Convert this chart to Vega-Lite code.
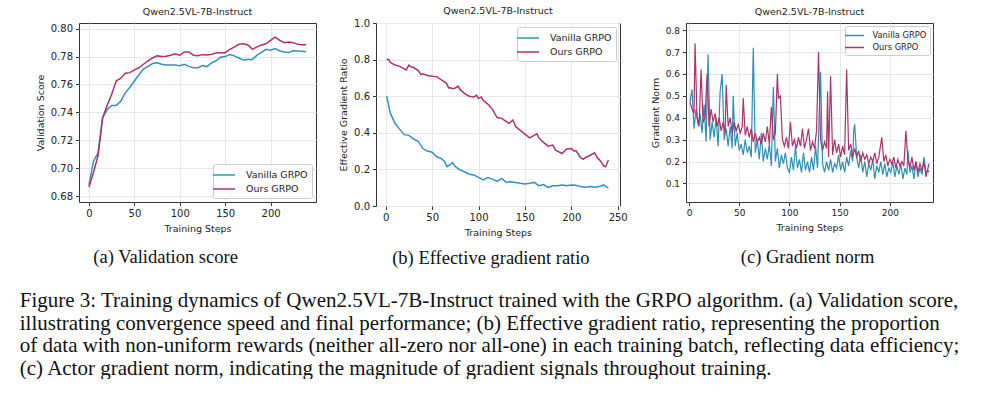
{
  "$schema": "https://vega.github.io/schema/vega-lite/v6.json",
  "background": "white",
  "padding": {"left": 19, "top": 5, "right": 0, "bottom": 0},
  "spacing": 21,
  "align": "none",
  "config": {
    "font": "DejaVu Sans",
    "view": {"stroke": "#333", "strokeWidth": 1},
    "axis": {"domain": false, "tickColor": "#333", "tickSize": 3.5, "labelFontSize": 10, "labelColor": "#222", "titleFontSize": 9.5, "titleFontWeight": "normal", "titleColor": "#222", "gridColor": "#e6e6e6", "labelPadding": 3, "titlePadding": 5},
    "title": {"font": "DejaVu Sans", "fontSize": 9.5, "fontWeight": "normal", "color": "#222"},
    "legend": {"title": null, "strokeColor": "#cccccc", "fillColor": "white", "padding": 4, "cornerRadius": 2, "symbolType": "M-1.8,0H1.8", "symbolStrokeWidth": 1.5, "symbolSize": 150, "labelOffset": 15, "labelFontSize": 9.5, "labelColor": "#222", "rowPadding": 2, "offset": 4}
  },
  "title": {
    "text": [
      "Figure 3: Training dynamics of Qwen2.5VL-7B-Instruct trained with the GRPO algorithm. (a) Validation score,",
      "illustrating convergence speed and final performance; (b) Effective gradient ratio, representing the proportion",
      "of data with non-uniform rewards (neither all-zero nor all-one) in each training batch, reflecting data efficiency;",
      "(c) Actor gradient norm, indicating the magnitude of gradient signals throughout training."
    ],
    "orient": "bottom", "anchor": "start", "font": "Liberation Serif", "fontSize": 21, "lineHeight": 22.5, "color": "#111", "offset": 23, "dx": -15, "frame": "bounds"
  },
  "resolve": {"scale": {"color": "independent", "x": "independent", "y": "independent"}, "legend": {"color": "independent"}},
  "datasets": {
    "a": [
      {"g":"Vanilla GRPO","x":0,"y":0.688},{"g":"Vanilla GRPO","x":5,"y":0.705},{"g":"Vanilla GRPO","x":10,"y":0.711},{"g":"Vanilla GRPO","x":15,"y":0.736},{"g":"Vanilla GRPO","x":20,"y":0.742},{"g":"Vanilla GRPO","x":25,"y":0.745},{"g":"Vanilla GRPO","x":30,"y":0.745},{"g":"Vanilla GRPO","x":35,"y":0.748},{"g":"Vanilla GRPO","x":40,"y":0.754},{"g":"Vanilla GRPO","x":45,"y":0.758},{"g":"Vanilla GRPO","x":50,"y":0.7625},{"g":"Vanilla GRPO","x":55,"y":0.767},{"g":"Vanilla GRPO","x":60,"y":0.771},{"g":"Vanilla GRPO","x":65,"y":0.773},{"g":"Vanilla GRPO","x":70,"y":0.775},{"g":"Vanilla GRPO","x":75,"y":0.7755},{"g":"Vanilla GRPO","x":80,"y":0.7745},{"g":"Vanilla GRPO","x":85,"y":0.774},{"g":"Vanilla GRPO","x":90,"y":0.774},{"g":"Vanilla GRPO","x":95,"y":0.774},{"g":"Vanilla GRPO","x":100,"y":0.7735},{"g":"Vanilla GRPO","x":105,"y":0.7745},{"g":"Vanilla GRPO","x":110,"y":0.773},{"g":"Vanilla GRPO","x":115,"y":0.772},{"g":"Vanilla GRPO","x":120,"y":0.772},{"g":"Vanilla GRPO","x":125,"y":0.7735},{"g":"Vanilla GRPO","x":130,"y":0.7728},{"g":"Vanilla GRPO","x":135,"y":0.7755},{"g":"Vanilla GRPO","x":140,"y":0.777},{"g":"Vanilla GRPO","x":145,"y":0.7797},{"g":"Vanilla GRPO","x":150,"y":0.780},{"g":"Vanilla GRPO","x":155,"y":0.7815},{"g":"Vanilla GRPO","x":160,"y":0.7805},{"g":"Vanilla GRPO","x":165,"y":0.779},{"g":"Vanilla GRPO","x":170,"y":0.7775},{"g":"Vanilla GRPO","x":175,"y":0.778},{"g":"Vanilla GRPO","x":180,"y":0.778},{"g":"Vanilla GRPO","x":185,"y":0.781},{"g":"Vanilla GRPO","x":190,"y":0.783},{"g":"Vanilla GRPO","x":195,"y":0.7852},{"g":"Vanilla GRPO","x":200,"y":0.7845},{"g":"Vanilla GRPO","x":205,"y":0.7857},{"g":"Vanilla GRPO","x":210,"y":0.784},{"g":"Vanilla GRPO","x":215,"y":0.7833},{"g":"Vanilla GRPO","x":220,"y":0.783},{"g":"Vanilla GRPO","x":225,"y":0.7842},{"g":"Vanilla GRPO","x":230,"y":0.784},{"g":"Vanilla GRPO","x":235,"y":0.7838},{"g":"Vanilla GRPO","x":239,"y":0.7835},
      {"g":"Ours GRPO","x":0,"y":0.6865},{"g":"Ours GRPO","x":5,"y":0.697},{"g":"Ours GRPO","x":10,"y":0.709},{"g":"Ours GRPO","x":15,"y":0.736},{"g":"Ours GRPO","x":20,"y":0.745},{"g":"Ours GRPO","x":25,"y":0.753},{"g":"Ours GRPO","x":30,"y":0.7625},{"g":"Ours GRPO","x":35,"y":0.7645},{"g":"Ours GRPO","x":40,"y":0.768},{"g":"Ours GRPO","x":45,"y":0.7685},{"g":"Ours GRPO","x":50,"y":0.7705},{"g":"Ours GRPO","x":55,"y":0.772},{"g":"Ours GRPO","x":60,"y":0.7745},{"g":"Ours GRPO","x":65,"y":0.777},{"g":"Ours GRPO","x":70,"y":0.779},{"g":"Ours GRPO","x":75,"y":0.7805},{"g":"Ours GRPO","x":80,"y":0.780},{"g":"Ours GRPO","x":85,"y":0.7802},{"g":"Ours GRPO","x":90,"y":0.781},{"g":"Ours GRPO","x":95,"y":0.782},{"g":"Ours GRPO","x":100,"y":0.781},{"g":"Ours GRPO","x":105,"y":0.7833},{"g":"Ours GRPO","x":110,"y":0.7833},{"g":"Ours GRPO","x":115,"y":0.781},{"g":"Ours GRPO","x":120,"y":0.7806},{"g":"Ours GRPO","x":125,"y":0.7814},{"g":"Ours GRPO","x":130,"y":0.7811},{"g":"Ours GRPO","x":135,"y":0.7816},{"g":"Ours GRPO","x":140,"y":0.7825},{"g":"Ours GRPO","x":145,"y":0.7828},{"g":"Ours GRPO","x":150,"y":0.7828},{"g":"Ours GRPO","x":155,"y":0.7852},{"g":"Ours GRPO","x":160,"y":0.7868},{"g":"Ours GRPO","x":165,"y":0.7888},{"g":"Ours GRPO","x":170,"y":0.7892},{"g":"Ours GRPO","x":175,"y":0.7883},{"g":"Ours GRPO","x":180,"y":0.7852},{"g":"Ours GRPO","x":185,"y":0.787},{"g":"Ours GRPO","x":190,"y":0.7883},{"g":"Ours GRPO","x":195,"y":0.7892},{"g":"Ours GRPO","x":200,"y":0.7916},{"g":"Ours GRPO","x":205,"y":0.794},{"g":"Ours GRPO","x":210,"y":0.7916},{"g":"Ours GRPO","x":215,"y":0.790},{"g":"Ours GRPO","x":220,"y":0.7905},{"g":"Ours GRPO","x":225,"y":0.790},{"g":"Ours GRPO","x":230,"y":0.7888},{"g":"Ours GRPO","x":235,"y":0.7885},{"g":"Ours GRPO","x":239,"y":0.7885}
    ],
    "b": [
      {"g":"Vanilla GRPO","x":1,"y":0.60},{"g":"Vanilla GRPO","x":5,"y":0.506},{"g":"Vanilla GRPO","x":10,"y":0.452},{"g":"Vanilla GRPO","x":15,"y":0.42},{"g":"Vanilla GRPO","x":20,"y":0.39},{"g":"Vanilla GRPO","x":25,"y":0.386},{"g":"Vanilla GRPO","x":30,"y":0.366},{"g":"Vanilla GRPO","x":35,"y":0.354},{"g":"Vanilla GRPO","x":40,"y":0.314},{"g":"Vanilla GRPO","x":45,"y":0.30},{"g":"Vanilla GRPO","x":50,"y":0.294},{"g":"Vanilla GRPO","x":55,"y":0.269},{"g":"Vanilla GRPO","x":60,"y":0.259},{"g":"Vanilla GRPO","x":63,"y":0.246},{"g":"Vanilla GRPO","x":66,"y":0.215},{"g":"Vanilla GRPO","x":69,"y":0.225},{"g":"Vanilla GRPO","x":72,"y":0.237},{"g":"Vanilla GRPO","x":75,"y":0.215},{"g":"Vanilla GRPO","x":80,"y":0.197},{"g":"Vanilla GRPO","x":85,"y":0.187},{"g":"Vanilla GRPO","x":90,"y":0.174},{"g":"Vanilla GRPO","x":95,"y":0.17},{"g":"Vanilla GRPO","x":100,"y":0.156},{"g":"Vanilla GRPO","x":105,"y":0.142},{"g":"Vanilla GRPO","x":110,"y":0.156},{"g":"Vanilla GRPO","x":115,"y":0.147},{"g":"Vanilla GRPO","x":120,"y":0.135},{"g":"Vanilla GRPO","x":125,"y":0.151},{"g":"Vanilla GRPO","x":130,"y":0.129},{"g":"Vanilla GRPO","x":135,"y":0.133},{"g":"Vanilla GRPO","x":140,"y":0.129},{"g":"Vanilla GRPO","x":145,"y":0.124},{"g":"Vanilla GRPO","x":150,"y":0.12},{"g":"Vanilla GRPO","x":155,"y":0.124},{"g":"Vanilla GRPO","x":160,"y":0.129},{"g":"Vanilla GRPO","x":165,"y":0.111},{"g":"Vanilla GRPO","x":170,"y":0.117},{"g":"Vanilla GRPO","x":175,"y":0.102},{"g":"Vanilla GRPO","x":180,"y":0.111},{"g":"Vanilla GRPO","x":185,"y":0.111},{"g":"Vanilla GRPO","x":190,"y":0.115},{"g":"Vanilla GRPO","x":195,"y":0.111},{"g":"Vanilla GRPO","x":200,"y":0.115},{"g":"Vanilla GRPO","x":205,"y":0.113},{"g":"Vanilla GRPO","x":210,"y":0.106},{"g":"Vanilla GRPO","x":215,"y":0.102},{"g":"Vanilla GRPO","x":220,"y":0.106},{"g":"Vanilla GRPO","x":225,"y":0.102},{"g":"Vanilla GRPO","x":230,"y":0.106},{"g":"Vanilla GRPO","x":235,"y":0.115},{"g":"Vanilla GRPO","x":240,"y":0.097},
      {"g":"Ours GRPO","x":1,"y":0.80},{"g":"Ours GRPO","x":3,"y":0.802},{"g":"Ours GRPO","x":5,"y":0.785},{"g":"Ours GRPO","x":10,"y":0.77},{"g":"Ours GRPO","x":15,"y":0.763},{"g":"Ours GRPO","x":20,"y":0.749},{"g":"Ours GRPO","x":22,"y":0.743},{"g":"Ours GRPO","x":25,"y":0.77},{"g":"Ours GRPO","x":28,"y":0.758},{"g":"Ours GRPO","x":30,"y":0.758},{"g":"Ours GRPO","x":35,"y":0.74},{"g":"Ours GRPO","x":38,"y":0.718},{"g":"Ours GRPO","x":40,"y":0.722},{"g":"Ours GRPO","x":45,"y":0.713},{"g":"Ours GRPO","x":50,"y":0.709},{"g":"Ours GRPO","x":55,"y":0.707},{"g":"Ours GRPO","x":60,"y":0.689},{"g":"Ours GRPO","x":65,"y":0.673},{"g":"Ours GRPO","x":68,"y":0.645},{"g":"Ours GRPO","x":70,"y":0.646},{"g":"Ours GRPO","x":72,"y":0.641},{"g":"Ours GRPO","x":75,"y":0.645},{"g":"Ours GRPO","x":78,"y":0.655},{"g":"Ours GRPO","x":80,"y":0.637},{"g":"Ours GRPO","x":85,"y":0.614},{"g":"Ours GRPO","x":90,"y":0.60},{"g":"Ours GRPO","x":95,"y":0.596},{"g":"Ours GRPO","x":98,"y":0.605},{"g":"Ours GRPO","x":100,"y":0.587},{"g":"Ours GRPO","x":103,"y":0.596},{"g":"Ours GRPO","x":105,"y":0.578},{"g":"Ours GRPO","x":110,"y":0.557},{"g":"Ours GRPO","x":115,"y":0.528},{"g":"Ours GRPO","x":120,"y":0.483},{"g":"Ours GRPO","x":125,"y":0.479},{"g":"Ours GRPO","x":130,"y":0.461},{"g":"Ours GRPO","x":133,"y":0.452},{"g":"Ours GRPO","x":137,"y":0.47},{"g":"Ours GRPO","x":140,"y":0.434},{"g":"Ours GRPO","x":145,"y":0.413},{"g":"Ours GRPO","x":150,"y":0.393},{"g":"Ours GRPO","x":155,"y":0.372},{"g":"Ours GRPO","x":160,"y":0.386},{"g":"Ours GRPO","x":163,"y":0.395},{"g":"Ours GRPO","x":165,"y":0.372},{"g":"Ours GRPO","x":170,"y":0.348},{"g":"Ours GRPO","x":175,"y":0.327},{"g":"Ours GRPO","x":180,"y":0.333},{"g":"Ours GRPO","x":183,"y":0.305},{"g":"Ours GRPO","x":185,"y":0.30},{"g":"Ours GRPO","x":190,"y":0.287},{"g":"Ours GRPO","x":195,"y":0.312},{"g":"Ours GRPO","x":200,"y":0.314},{"g":"Ours GRPO","x":203,"y":0.30},{"g":"Ours GRPO","x":205,"y":0.303},{"g":"Ours GRPO","x":210,"y":0.264},{"g":"Ours GRPO","x":213,"y":0.255},{"g":"Ours GRPO","x":215,"y":0.264},{"g":"Ours GRPO","x":220,"y":0.276},{"g":"Ours GRPO","x":225,"y":0.291},{"g":"Ours GRPO","x":228,"y":0.264},{"g":"Ours GRPO","x":230,"y":0.255},{"g":"Ours GRPO","x":235,"y":0.219},{"g":"Ours GRPO","x":237,"y":0.214},{"g":"Ours GRPO","x":240,"y":0.251}
    ],
    "c": [
      {"g":"Vanilla GRPO","x":1,"y":0.47},{"g":"Vanilla GRPO","x":3,"y":0.53},{"g":"Vanilla GRPO","x":5,"y":0.35},{"g":"Vanilla GRPO","x":7,"y":0.44},{"g":"Vanilla GRPO","x":9,"y":0.37},{"g":"Vanilla GRPO","x":11,"y":0.42},{"g":"Vanilla GRPO","x":13,"y":0.33},{"g":"Vanilla GRPO","x":15,"y":0.46},{"g":"Vanilla GRPO","x":17,"y":0.29},{"g":"Vanilla GRPO","x":19,"y":0.69},{"g":"Vanilla GRPO","x":21,"y":0.30},{"g":"Vanilla GRPO","x":23,"y":0.38},{"g":"Vanilla GRPO","x":25,"y":0.31},{"g":"Vanilla GRPO","x":27,"y":0.40},{"g":"Vanilla GRPO","x":29,"y":0.27},{"g":"Vanilla GRPO","x":31,"y":0.52},{"g":"Vanilla GRPO","x":33,"y":0.60},{"g":"Vanilla GRPO","x":35,"y":0.30},{"g":"Vanilla GRPO","x":37,"y":0.35},{"g":"Vanilla GRPO","x":39,"y":0.27},{"g":"Vanilla GRPO","x":41,"y":0.36},{"g":"Vanilla GRPO","x":43,"y":0.26},{"g":"Vanilla GRPO","x":44,"y":0.50},{"g":"Vanilla GRPO","x":46,"y":0.27},{"g":"Vanilla GRPO","x":48,"y":0.33},{"g":"Vanilla GRPO","x":50,"y":0.25},{"g":"Vanilla GRPO","x":52,"y":0.28},{"g":"Vanilla GRPO","x":54,"y":0.23},{"g":"Vanilla GRPO","x":56,"y":0.30},{"g":"Vanilla GRPO","x":58,"y":0.24},{"g":"Vanilla GRPO","x":60,"y":0.27},{"g":"Vanilla GRPO","x":62,"y":0.22},{"g":"Vanilla GRPO","x":64,"y":0.72},{"g":"Vanilla GRPO","x":66,"y":0.24},{"g":"Vanilla GRPO","x":68,"y":0.30},{"g":"Vanilla GRPO","x":70,"y":0.21},{"g":"Vanilla GRPO","x":72,"y":0.33},{"g":"Vanilla GRPO","x":74,"y":0.20},{"g":"Vanilla GRPO","x":76,"y":0.26},{"g":"Vanilla GRPO","x":78,"y":0.21},{"g":"Vanilla GRPO","x":80,"y":0.28},{"g":"Vanilla GRPO","x":82,"y":0.18},{"g":"Vanilla GRPO","x":84,"y":0.54},{"g":"Vanilla GRPO","x":86,"y":0.20},{"g":"Vanilla GRPO","x":88,"y":0.26},{"g":"Vanilla GRPO","x":90,"y":0.17},{"g":"Vanilla GRPO","x":92,"y":0.23},{"g":"Vanilla GRPO","x":94,"y":0.19},{"g":"Vanilla GRPO","x":96,"y":0.24},{"g":"Vanilla GRPO","x":98,"y":0.17},{"g":"Vanilla GRPO","x":100,"y":0.15},{"g":"Vanilla GRPO","x":102,"y":0.22},{"g":"Vanilla GRPO","x":104,"y":0.16},{"g":"Vanilla GRPO","x":106,"y":0.27},{"g":"Vanilla GRPO","x":108,"y":0.17},{"g":"Vanilla GRPO","x":110,"y":0.21},{"g":"Vanilla GRPO","x":112,"y":0.15},{"g":"Vanilla GRPO","x":114,"y":0.24},{"g":"Vanilla GRPO","x":116,"y":0.16},{"g":"Vanilla GRPO","x":118,"y":0.20},{"g":"Vanilla GRPO","x":120,"y":0.15},{"g":"Vanilla GRPO","x":122,"y":0.22},{"g":"Vanilla GRPO","x":124,"y":0.16},{"g":"Vanilla GRPO","x":126,"y":0.27},{"g":"Vanilla GRPO","x":128,"y":0.17},{"g":"Vanilla GRPO","x":131,"y":0.61},{"g":"Vanilla GRPO","x":133,"y":0.19},{"g":"Vanilla GRPO","x":135,"y":0.15},{"g":"Vanilla GRPO","x":137,"y":0.20},{"g":"Vanilla GRPO","x":139,"y":0.16},{"g":"Vanilla GRPO","x":141,"y":0.21},{"g":"Vanilla GRPO","x":143,"y":0.15},{"g":"Vanilla GRPO","x":145,"y":0.19},{"g":"Vanilla GRPO","x":147,"y":0.17},{"g":"Vanilla GRPO","x":149,"y":0.23},{"g":"Vanilla GRPO","x":151,"y":0.16},{"g":"Vanilla GRPO","x":153,"y":0.20},{"g":"Vanilla GRPO","x":155,"y":0.15},{"g":"Vanilla GRPO","x":157,"y":0.22},{"g":"Vanilla GRPO","x":159,"y":0.18},{"g":"Vanilla GRPO","x":161,"y":0.25},{"g":"Vanilla GRPO","x":163,"y":0.20},{"g":"Vanilla GRPO","x":164,"y":0.34},{"g":"Vanilla GRPO","x":165,"y":0.37},{"g":"Vanilla GRPO","x":167,"y":0.22},{"g":"Vanilla GRPO","x":169,"y":0.17},{"g":"Vanilla GRPO","x":171,"y":0.23},{"g":"Vanilla GRPO","x":173,"y":0.15},{"g":"Vanilla GRPO","x":175,"y":0.20},{"g":"Vanilla GRPO","x":177,"y":0.13},{"g":"Vanilla GRPO","x":179,"y":0.19},{"g":"Vanilla GRPO","x":181,"y":0.16},{"g":"Vanilla GRPO","x":183,"y":0.21},{"g":"Vanilla GRPO","x":185,"y":0.12},{"g":"Vanilla GRPO","x":187,"y":0.18},{"g":"Vanilla GRPO","x":189,"y":0.15},{"g":"Vanilla GRPO","x":191,"y":0.20},{"g":"Vanilla GRPO","x":193,"y":0.14},{"g":"Vanilla GRPO","x":195,"y":0.19},{"g":"Vanilla GRPO","x":197,"y":0.13},{"g":"Vanilla GRPO","x":199,"y":0.17},{"g":"Vanilla GRPO","x":201,"y":0.15},{"g":"Vanilla GRPO","x":203,"y":0.20},{"g":"Vanilla GRPO","x":205,"y":0.13},{"g":"Vanilla GRPO","x":207,"y":0.18},{"g":"Vanilla GRPO","x":209,"y":0.14},{"g":"Vanilla GRPO","x":211,"y":0.19},{"g":"Vanilla GRPO","x":213,"y":0.12},{"g":"Vanilla GRPO","x":215,"y":0.17},{"g":"Vanilla GRPO","x":217,"y":0.14},{"g":"Vanilla GRPO","x":218,"y":0.25},{"g":"Vanilla GRPO","x":220,"y":0.15},{"g":"Vanilla GRPO","x":222,"y":0.18},{"g":"Vanilla GRPO","x":224,"y":0.12},{"g":"Vanilla GRPO","x":226,"y":0.20},{"g":"Vanilla GRPO","x":228,"y":0.13},{"g":"Vanilla GRPO","x":230,"y":0.17},{"g":"Vanilla GRPO","x":232,"y":0.14},{"g":"Vanilla GRPO","x":234,"y":0.22},{"g":"Vanilla GRPO","x":236,"y":0.15},{"g":"Vanilla GRPO","x":238,"y":0.16},{"g":"Vanilla GRPO","x":239,"y":0.15},
      {"g":"Ours GRPO","x":1,"y":0.47},{"g":"Ours GRPO","x":3,"y":0.44},{"g":"Ours GRPO","x":5,"y":0.42},{"g":"Ours GRPO","x":6,"y":0.74},{"g":"Ours GRPO","x":8,"y":0.40},{"g":"Ours GRPO","x":10,"y":0.36},{"g":"Ours GRPO","x":12,"y":0.62},{"g":"Ours GRPO","x":14,"y":0.38},{"g":"Ours GRPO","x":16,"y":0.40},{"g":"Ours GRPO","x":18,"y":0.60},{"g":"Ours GRPO","x":20,"y":0.36},{"g":"Ours GRPO","x":22,"y":0.44},{"g":"Ours GRPO","x":24,"y":0.38},{"g":"Ours GRPO","x":26,"y":0.42},{"g":"Ours GRPO","x":28,"y":0.36},{"g":"Ours GRPO","x":30,"y":0.40},{"g":"Ours GRPO","x":32,"y":0.34},{"g":"Ours GRPO","x":34,"y":0.38},{"g":"Ours GRPO","x":36,"y":0.33},{"g":"Ours GRPO","x":37,"y":0.55},{"g":"Ours GRPO","x":39,"y":0.36},{"g":"Ours GRPO","x":41,"y":0.40},{"g":"Ours GRPO","x":43,"y":0.33},{"g":"Ours GRPO","x":45,"y":0.38},{"g":"Ours GRPO","x":47,"y":0.34},{"g":"Ours GRPO","x":49,"y":0.37},{"g":"Ours GRPO","x":51,"y":0.33},{"g":"Ours GRPO","x":53,"y":0.36},{"g":"Ours GRPO","x":54,"y":0.49},{"g":"Ours GRPO","x":56,"y":0.32},{"g":"Ours GRPO","x":58,"y":0.36},{"g":"Ours GRPO","x":60,"y":0.31},{"g":"Ours GRPO","x":62,"y":0.35},{"g":"Ours GRPO","x":64,"y":0.29},{"g":"Ours GRPO","x":66,"y":0.33},{"g":"Ours GRPO","x":68,"y":0.29},{"g":"Ours GRPO","x":70,"y":0.31},{"g":"Ours GRPO","x":72,"y":0.28},{"g":"Ours GRPO","x":74,"y":0.33},{"g":"Ours GRPO","x":76,"y":0.29},{"g":"Ours GRPO","x":78,"y":0.36},{"g":"Ours GRPO","x":80,"y":0.28},{"g":"Ours GRPO","x":82,"y":0.45},{"g":"Ours GRPO","x":84,"y":0.30},{"g":"Ours GRPO","x":86,"y":0.33},{"g":"Ours GRPO","x":88,"y":0.60},{"g":"Ours GRPO","x":89,"y":0.49},{"g":"Ours GRPO","x":91,"y":0.50},{"g":"Ours GRPO","x":93,"y":0.30},{"g":"Ours GRPO","x":95,"y":0.27},{"g":"Ours GRPO","x":97,"y":0.31},{"g":"Ours GRPO","x":99,"y":0.26},{"g":"Ours GRPO","x":101,"y":0.38},{"g":"Ours GRPO","x":103,"y":0.27},{"g":"Ours GRPO","x":105,"y":0.30},{"g":"Ours GRPO","x":107,"y":0.26},{"g":"Ours GRPO","x":109,"y":0.31},{"g":"Ours GRPO","x":111,"y":0.27},{"g":"Ours GRPO","x":113,"y":0.35},{"g":"Ours GRPO","x":115,"y":0.26},{"g":"Ours GRPO","x":117,"y":0.30},{"g":"Ours GRPO","x":119,"y":0.35},{"g":"Ours GRPO","x":121,"y":0.25},{"g":"Ours GRPO","x":123,"y":0.29},{"g":"Ours GRPO","x":125,"y":0.26},{"g":"Ours GRPO","x":127,"y":0.34},{"g":"Ours GRPO","x":129,"y":0.70},{"g":"Ours GRPO","x":131,"y":0.30},{"g":"Ours GRPO","x":133,"y":0.25},{"g":"Ours GRPO","x":135,"y":0.29},{"g":"Ours GRPO","x":137,"y":0.26},{"g":"Ours GRPO","x":138,"y":0.52},{"g":"Ours GRPO","x":139,"y":0.22},{"g":"Ours GRPO","x":141,"y":0.59},{"g":"Ours GRPO","x":143,"y":0.23},{"g":"Ours GRPO","x":145,"y":0.30},{"g":"Ours GRPO","x":147,"y":0.24},{"g":"Ours GRPO","x":149,"y":0.28},{"g":"Ours GRPO","x":151,"y":0.22},{"g":"Ours GRPO","x":153,"y":0.27},{"g":"Ours GRPO","x":155,"y":0.23},{"g":"Ours GRPO","x":157,"y":0.62},{"g":"Ours GRPO","x":159,"y":0.25},{"g":"Ours GRPO","x":161,"y":0.28},{"g":"Ours GRPO","x":163,"y":0.22},{"g":"Ours GRPO","x":165,"y":0.26},{"g":"Ours GRPO","x":167,"y":0.22},{"g":"Ours GRPO","x":169,"y":0.25},{"g":"Ours GRPO","x":171,"y":0.20},{"g":"Ours GRPO","x":173,"y":0.24},{"g":"Ours GRPO","x":175,"y":0.21},{"g":"Ours GRPO","x":177,"y":0.23},{"g":"Ours GRPO","x":179,"y":0.19},{"g":"Ours GRPO","x":181,"y":0.22},{"g":"Ours GRPO","x":183,"y":0.20},{"g":"Ours GRPO","x":185,"y":0.24},{"g":"Ours GRPO","x":187,"y":0.19},{"g":"Ours GRPO","x":189,"y":0.22},{"g":"Ours GRPO","x":192,"y":0.31},{"g":"Ours GRPO","x":194,"y":0.20},{"g":"Ours GRPO","x":196,"y":0.23},{"g":"Ours GRPO","x":198,"y":0.18},{"g":"Ours GRPO","x":200,"y":0.21},{"g":"Ours GRPO","x":202,"y":0.19},{"g":"Ours GRPO","x":204,"y":0.22},{"g":"Ours GRPO","x":206,"y":0.17},{"g":"Ours GRPO","x":208,"y":0.21},{"g":"Ours GRPO","x":210,"y":0.18},{"g":"Ours GRPO","x":212,"y":0.20},{"g":"Ours GRPO","x":214,"y":0.18},{"g":"Ours GRPO","x":216,"y":0.34},{"g":"Ours GRPO","x":218,"y":0.21},{"g":"Ours GRPO","x":220,"y":0.17},{"g":"Ours GRPO","x":222,"y":0.22},{"g":"Ours GRPO","x":224,"y":0.16},{"g":"Ours GRPO","x":226,"y":0.20},{"g":"Ours GRPO","x":228,"y":0.15},{"g":"Ours GRPO","x":230,"y":0.19},{"g":"Ours GRPO","x":232,"y":0.16},{"g":"Ours GRPO","x":234,"y":0.20},{"g":"Ours GRPO","x":236,"y":0.13},{"g":"Ours GRPO","x":238,"y":0.17},{"g":"Ours GRPO","x":239,"y":0.19}
    ]
  },
  "hconcat": [
    {
      "title": {"text": "(a) Validation score", "orient": "bottom", "anchor": "middle", "font": "Liberation Serif", "fontSize": 18.5, "color": "#111", "offset": 14, "dx": -10},
      "resolve": {"legend": {"color": "independent"}, "scale": {"color": "independent"}},
      "vconcat": [
        {
          "title": {"text": "Qwen2.5VL-7B-Instruct", "frame": "group", "anchor": "middle", "offset": 7},
          "width": 237, "height": 179,
          "data": {"name": "a"},
          "mark": {"type": "line", "strokeWidth": 1.5},
          "encoding": {
            "x": {"field": "x", "type": "quantitative", "title": "Training Steps", "scale": {"domain": [-11, 250], "nice": false, "zero": false}, "axis": {"values": [0, 50, 100, 150, 200]}},
            "y": {"field": "y", "type": "quantitative", "title": "Validation Score", "scale": {"domain": [0.6757, 0.8041], "nice": false, "zero": false}, "axis": {"values": [0.68, 0.70, 0.72, 0.74, 0.76, 0.78, 0.80], "format": ".2f"}},
            "color": {"field": "g", "type": "nominal", "scale": {"domain": ["Vanilla GRPO", "Ours GRPO"], "range": ["#3391bb", "#a8346f"]}, "legend": {"orient": "bottom-right"}}
          }
        }
      ]
    },
    {
      "title": {"text": "(b) Effective gradient ratio", "orient": "bottom", "anchor": "middle", "font": "Liberation Serif", "fontSize": 18.5, "color": "#111", "offset": 11, "dx": 8},
      "resolve": {"legend": {"color": "independent"}, "scale": {"color": "independent"}},
      "vconcat": [
        {
          "title": {"text": "Qwen2.5VL-7B-Instruct", "frame": "group", "anchor": "middle", "offset": 3},
          "width": 244, "height": 183,
          "data": {"name": "b"},
          "mark": {"type": "line", "strokeWidth": 1.5},
          "encoding": {
            "x": {"field": "x", "type": "quantitative", "title": "Training Steps", "scale": {"domain": [-10.5, 252.5], "nice": false, "zero": false}, "axis": {"values": [0, 50, 100, 150, 200, 250]}},
            "y": {"field": "y", "type": "quantitative", "title": "Effective Gradient Ratio", "scale": {"domain": [0, 1], "nice": false}, "axis": {"values": [0, 0.2, 0.4, 0.6, 0.8, 1.0], "format": ".1f"}},
            "color": {"field": "g", "type": "nominal", "scale": {"domain": ["Vanilla GRPO", "Ours GRPO"], "range": ["#3391bb", "#a8346f"]}, "legend": {"orient": "top-right"}}
          }
        }
      ]
    },
    {
      "title": {"text": "(c) Gradient norm", "orient": "bottom", "anchor": "middle", "font": "Liberation Serif", "fontSize": 18.5, "color": "#111", "offset": 15, "dx": 16},
      "resolve": {"legend": {"color": "independent"}, "scale": {"color": "independent"}},
      "vconcat": [
        {
          "title": {"text": "Qwen2.5VL-7B-Instruct", "frame": "group", "anchor": "middle", "offset": 7},
          "width": 247, "height": 179,
          "data": {"name": "c"},
          "mark": {"type": "line", "strokeWidth": 1.2},
          "encoding": {
            "x": {"field": "x", "type": "quantitative", "title": "Training Steps", "scale": {"domain": [-3, 243], "nice": false, "zero": false}, "axis": {"values": [0, 50, 100, 150, 200], "labelFontSize": 9}},
            "y": {"field": "y", "type": "quantitative", "title": "Gradient Norm", "scale": {"domain": [0.015, 0.833], "nice": false, "zero": false}, "axis": {"values": [0.1, 0.2, 0.3, 0.4, 0.5, 0.6, 0.7, 0.8], "format": ".1f", "labelFontSize": 9}},
            "color": {"field": "g", "type": "nominal", "scale": {"domain": ["Vanilla GRPO", "Ours GRPO"], "range": ["#2f8fb0", "#a8346f"]}, "legend": {"orient": "top-right", "labelFontSize": 8.3, "symbolSize": 110, "labelOffset": 12, "padding": 3.5, "offset": 3}}
          }
        }
      ]
    }
  ]
}
